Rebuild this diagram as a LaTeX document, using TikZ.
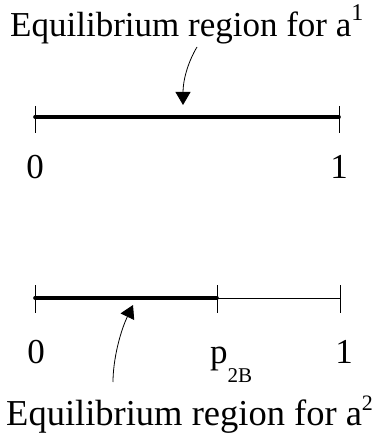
\documentclass[tikz,border=0pt]{standalone}
\usepackage{fontspec}
\setmainfont{Liberation Serif}
\usetikzlibrary{arrows.meta}

\begin{document}
\begin{tikzpicture}[
x=1pt, y=-1pt,
axis/.style={line width=0.8pt},
region/.style={line width=3.6pt, line cap=round},
tick/.style={line width=0.8pt},
lbl/.style={inner sep=0pt, anchor=base, font=\fontsize{35}{35}\selectfont},
title/.style={inner sep=0pt, anchor=base west},
pointer/.style={line width=0.8pt, -{Triangle[width=15pt,length=13pt]}}
]
\useasboundingbox (0,0) rectangle (382,435);

% upper scale
\coordinate (a0) at (35,117);
\coordinate (a1) at (339,117);
\draw[region] (a0) -- (a1);
\draw[tick] (a0) ++(0,-11) -- ++(0,27);
\draw[tick] (a1) ++(0,-11) -- ++(0,27);

\node[title, font=\fontsize{35}{35}\selectfont] (title1) at (10,37)
  {Equilibrium region for a\raisebox{16pt}{\fontsize{24}{24}\selectfont 1}};
\node[lbl] (zero1) at (35,179) {0};
\node[lbl] (one1) at (339,179) {1};

\coordinate (s1) at (197,47);
\coordinate (t1) at (183,105);
\draw[pointer] (s1) .. controls (188,62) and (183,80) .. (t1);

% lower scale
\coordinate (b0) at (35,298);
\coordinate (bp) at (217,298);
\coordinate (b1) at (340,298);
\draw[axis] (bp) -- (b1);
\draw[region] (b0) -- (bp);
\draw[tick] (b0) ++(0,-13) -- ++(0,28);
\draw[tick] (bp) ++(0,-13) -- ++(0,28);
\draw[tick] (b1) ++(0,-13) -- ++(0,28);

\node[lbl] (zero2) at (36,363) {0};
\node[lbl, anchor=base west] (p2B) at (210,363)
  {p\raisebox{-19pt}{\fontsize{21}{21}\selectfont 2B}};
\node[lbl] (one2) at (344,363) {1};

\node[title, font=\fontsize{36.5}{36.5}\selectfont] (title2) at (6,425)
  {Equilibrium region for a\raisebox{15pt}{\fontsize{22}{22}\selectfont 2}};

\coordinate (s2) at (113,382);
\coordinate (t2) at (133,305);
\draw[pointer] (s2) .. controls (113,360) and (120,332) .. (t2);

\end{tikzpicture}
\end{document}
